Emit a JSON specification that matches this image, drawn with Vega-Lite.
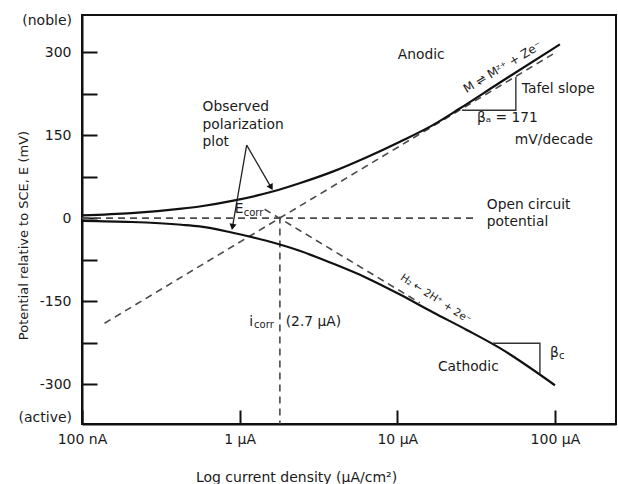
{
 "$schema": "https://vega.github.io/schema/vega-lite/v6.json",
 "width": 534, "height": 409,
 "autosize": "none",
 "padding": {"left": 82, "top": 15, "right": 2, "bottom": 60},
 "background": "white",
 "config": {"view": {"stroke": "#111", "strokeWidth": 2}, "font": "DejaVu Sans"},
 "datasets": {
  "curves": [
   {"series":"anodic","i":0.1,"E":5},{"series":"anodic","i":0.206,"E":9},{"series":"anodic","i":0.428,"E":17},{"series":"anodic","i":0.557,"E":21},{"series":"anodic","i":0.93,"E":32},{"series":"anodic","i":1.62,"E":48},{"series":"anodic","i":2.4,"E":63},{"series":"anodic","i":3.89,"E":84},{"series":"anodic","i":6.4,"E":110},{"series":"anodic","i":10.4,"E":138},{"series":"anodic","i":16.8,"E":168},{"series":"anodic","i":24.9,"E":198},{"series":"anodic","i":44.8,"E":245},{"series":"anodic","i":107.6,"E":314},
   {"series":"cathodic","i":0.1,"E":-5},{"series":"cathodic","i":0.206,"E":-7},{"series":"cathodic","i":0.428,"E":-12},{"series":"cathodic","i":0.557,"E":-15},{"series":"cathodic","i":0.889,"E":-26},{"series":"cathodic","i":1.48,"E":-41},{"series":"cathodic","i":2.4,"E":-59},{"series":"cathodic","i":3.89,"E":-82},{"series":"cathodic","i":6.4,"E":-108},{"series":"cathodic","i":10.4,"E":-138},{"series":"cathodic","i":16.8,"E":-170},{"series":"cathodic","i":27.6,"E":-202},{"series":"cathodic","i":44.8,"E":-235},{"series":"cathodic","i":100,"E":-302}
  ],
  "dashed": [
   {"series":"anodicTafel","i":0.139,"E":-190},{"series":"anodicTafel","i":102,"E":300},
   {"series":"cathodicTafel","i":1.44,"E":16},{"series":"cathodicTafel","i":13.9,"E":-153},
   {"series":"ocp","i":0.1,"E":0},{"series":"ocp","i":32,"E":0},
   {"series":"icorr","i":1.8,"E":3},{"series":"icorr","i":1.8001,"E":-372}
  ],
  "tri": [
   {"series":"a","k":1,"i":25.7,"E":195},{"series":"a","k":2,"i":56.5,"E":195},{"series":"a","k":3,"i":56.5,"E":255},
   {"series":"c","k":1,"i":40.4,"E":-226},{"series":"c","k":2,"i":80.3,"E":-226},{"series":"c","k":3,"i":80.3,"E":-282}
  ],
  "arrows": [
   {"i":1.108,"E":132,"i2":1.573,"E2":57},
   {"i":1.108,"E":132,"i2":0.903,"E2":-14}
  ],
  "heads": [
   {"arrow":"upper","i":1.573,"E":57},
   {"arrow":"lower","i":0.903,"E":-14}
  ],
  "labels": [
   {"text":"Anodic","i":10.07,"E":295},
   {"text":"Tafel slope","i":61.7,"E":233},
   {"text":"βₐ = 171","i":32,"E":181},
   {"text":"mV/decade","i":55.7,"E":141},
   {"text":"Observed","i":0.582,"E":201},
   {"text":"polarization","i":0.582,"E":168},
   {"text":"plot","i":0.582,"E":137},
   {"text":"Open circuit","i":37,"E":23.5},
   {"text":"potential","i":37,"E":-7},
   {"text":"Cathodic","i":18.1,"E":-269},
   {"text":"E","i":0.93,"E":16},
   {"text":"i","i":1.15,"E":-188},
   {"text":"(2.7 μA)","i":1.96,"E":-188},
   {"text":"β","i":93,"E":-244}
  ],
  "subs": [
   {"text":"corr","i":1.06,"E":9},
   {"text":"corr","i":1.235,"E":-194},
   {"text":"c","i":106,"E":-249}
  ],
  "ends": [
   {"text":"(noble)","i":0.1,"E":356},
   {"text":"(active)","i":0.1,"E":-361}
  ],
  "eqs": [
   {"reaction":"anodic","text":"M ⇌ Mᶻ⁺ + Ze⁻","i":46.5,"E":273},
   {"reaction":"cathodic","text":"H₂ ← 2H⁺ + 2e⁻","i":17.5,"E":-146}
  ]
 },
 "encoding": {
  "x": {"field": "i", "type": "quantitative",
   "scale": {"type": "log", "domain": [0.1, 244], "nice": false},
   "axis": {"values": [0.1, 1, 10, 100],
    "labelExpr": "datum.value < 0.5 ? '100 nA' : (datum.value < 5 ? '1 μA' : (datum.value < 50 ? '10 μA' : '100 μA'))",
    "tickSize": -14, "tickWidth": 2, "tickColor": "#111", "domainColor": "#111", "domainWidth": 2,
    "labelPadding": 22, "labelFontSize": 14, "labelColor": "#1a1a1a", "labelOverlap": false, "labelBound": false, "labelFlush": false,
    "grid": false,
    "title": "Log current density (μA/cm²)", "titleFontSize": 14, "titleFontWeight": "normal", "titleColor": "#1a1a1a",
    "titleX": 214, "titleY": 53, "titleBaseline": "middle", "titleAlign": "center"}},
  "y": {"field": "E", "type": "quantitative",
   "scale": {"domain": [-372, 367], "nice": false, "zero": false},
   "axis": {"values": [-300, -225, -150, -75, 0, 75, 150, 225, 300],
    "labelExpr": "datum.value % 150 === 0 ? '' + datum.value : ''",
    "tickSize": -15, "tickWidth": 2, "tickColor": "#111", "domainColor": "#111", "domainWidth": 2,
    "labelPadding": 26, "labelFontSize": 14, "labelColor": "#1a1a1a", "labelOverlap": false, "labelBound": false, "labelFlush": false,
    "grid": false,
    "title": "Potential relative to SCE,  E (mV)", "titleFontSize": 13, "titleFontWeight": "normal", "titleColor": "#1a1a1a",
    "titleX": -59, "titleY": 220, "titleAngle": -90, "titleBaseline": "middle", "titleAlign": "center"}}
 },
 "layer": [
  {"data": {"name": "dashed"}, "mark": {"type": "line", "color": "#4a4a4a", "strokeWidth": 1.6, "strokeDash": [7, 5]}, "encoding": {"detail": {"field": "series"}}},
  {"data": {"name": "curves"}, "mark": {"type": "line", "interpolate": "monotone", "color": "#111", "strokeWidth": 2.2}, "encoding": {"detail": {"field": "series"}}},
  {"data": {"name": "tri"}, "mark": {"type": "line", "color": "#333", "strokeWidth": 1.4}, "encoding": {"detail": {"field": "series"}, "order": {"field": "k"}}},
  {"data": {"name": "arrows"}, "mark": {"type": "rule", "color": "#222", "strokeWidth": 1.3}, "encoding": {"x2": {"field": "i2"}, "y2": {"field": "E2"}}},
  {"data": {"name": "heads"}, "transform": [{"filter": "datum.arrow === 'upper'"}], "mark": {"type": "point", "shape": "triangle", "filled": true, "color": "#111", "opacity": 1, "size": 50, "angle": 150}},
  {"data": {"name": "heads"}, "transform": [{"filter": "datum.arrow === 'lower'"}], "mark": {"type": "point", "shape": "triangle", "filled": true, "color": "#111", "opacity": 1, "size": 50, "angle": 190}},
  {"data": {"name": "labels"}, "mark": {"type": "text", "align": "left", "baseline": "middle", "fontSize": 13.8, "color": "#1a1a1a"}, "encoding": {"text": {"field": "text"}}},
  {"data": {"name": "subs"}, "mark": {"type": "text", "align": "left", "baseline": "middle", "fontSize": 10, "color": "#1a1a1a"}, "encoding": {"text": {"field": "text"}}},
  {"data": {"name": "ends"}, "mark": {"type": "text", "align": "right", "baseline": "middle", "fontSize": 14, "color": "#1a1a1a", "dx": -10}, "encoding": {"text": {"field": "text"}}},
  {"data": {"name": "eqs"}, "transform": [{"filter": "datum.reaction === 'anodic'"}], "mark": {"type": "text", "align": "center", "baseline": "middle", "fontSize": 12, "color": "#1a1a1a", "angle": -31}, "encoding": {"text": {"field": "text"}}},
  {"data": {"name": "eqs"}, "transform": [{"filter": "datum.reaction === 'cathodic'"}], "mark": {"type": "text", "align": "center", "baseline": "middle", "fontSize": 10.5, "color": "#1a1a1a", "angle": 33}, "encoding": {"text": {"field": "text"}}}
 ]
}
